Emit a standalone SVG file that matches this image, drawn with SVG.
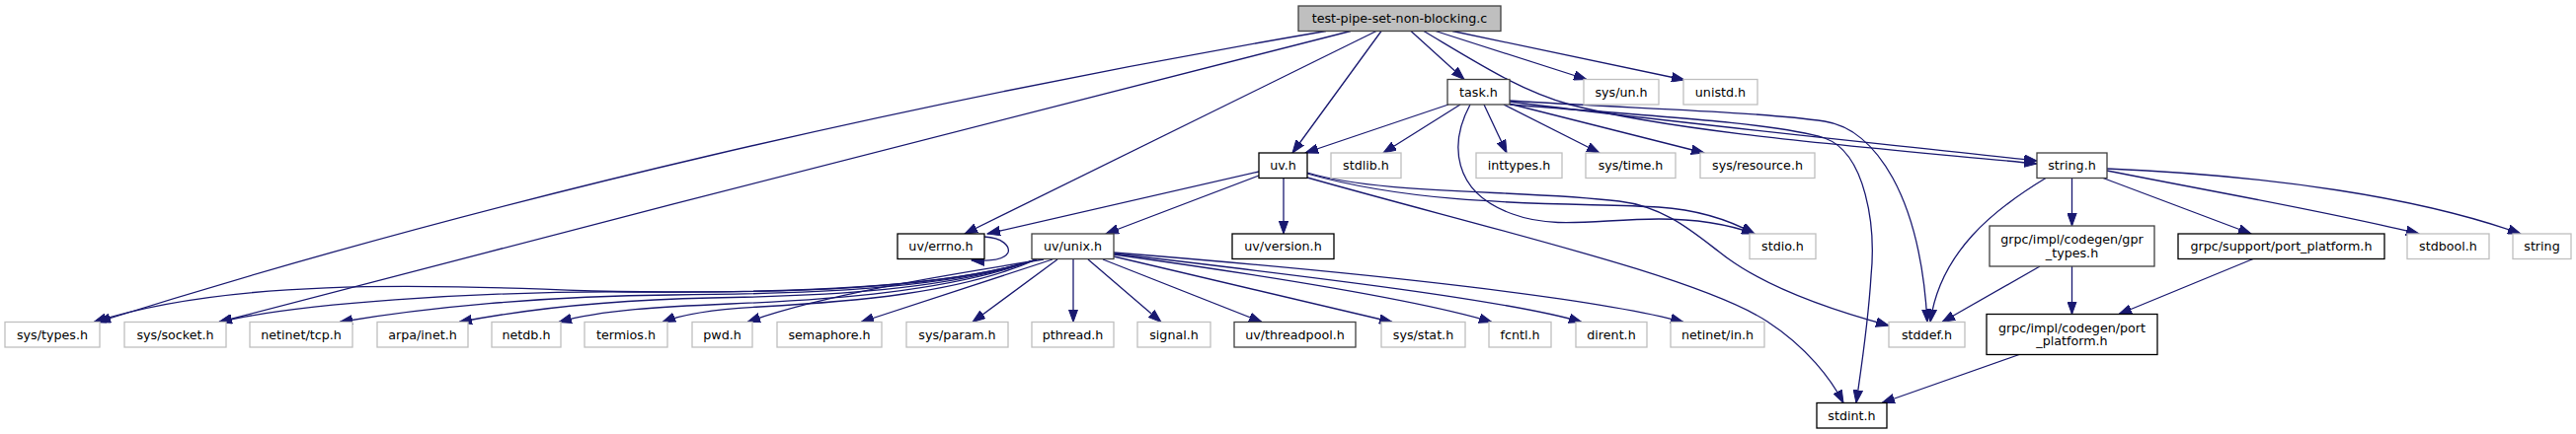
<svg xmlns="http://www.w3.org/2000/svg" width="2609" height="440" viewBox="0 0 2609 440">
<style>
.n rect{fill:#fff;stroke-width:1.3}
.k rect{stroke:#000}
.d rect{stroke:#404040}
.g rect{stroke:#bfbfbf}
.r rect{fill:#bfbfbf;stroke:#404040}
text{font-family:"DejaVu Sans","Liberation Sans",sans-serif;font-size:12.7px;fill:#000;text-anchor:middle}
.e path{fill:none;stroke:#191970;stroke-width:1.3;marker-end:url(#a)}
</style>
<defs>
<marker id="a" markerUnits="userSpaceOnUse" markerWidth="14" markerHeight="10" refX="13" refY="5" orient="auto" viewBox="0 0 14 10">
<path d="M0,0.3 L13,5 L0,9.7 z" fill="#191970" stroke="#191970" stroke-width="1"/>
</marker>
</defs>
<rect x="0" y="0" width="2609" height="440" fill="#fff"/>
<g class="e" id="edges">
<path d="M1399,31.5 L1309,155"/>
<path d="M1429,31.5 L1483,80.5"/>
<path d="M1454,31.5 L1607,80.5"/>
<path d="M1471,31.5 L1706,81"/>
<path d="M1442,31.5 C1500,66 1540,92 1590,106 C1700,135 1900,150 2063,166"/>
<path d="M1394,31.5 L977,237"/>
<path d="M1343,31.5 C943,100 499,200 99,326.5"/>
<path d="M1368,31.5 C1000,125 600,227 222,326.5"/>
<path d="M1467,106 L1322,155"/>
<path d="M1479,106 L1401,155"/>
<path d="M1503,106 L1526,155"/>
<path d="M1523,106 L1620,155"/>
<path d="M1528,105 L1726,155"/>
<path d="M1489,106 C1468,145 1470,195 1532,217 C1575,233 1620,222 1680,222 C1720,222 1752,228 1777,237"/>
<path d="M1529,103 C1700,125 1900,145 2063,163"/>
<path d="M1529,102 C1650,110 1780,113 1848,123 C1900,131 1945,200 1952,326.5"/>
<path d="M1529,106 C1680,118 1800,125 1848,140 C1890,155 1900,230 1895,280 C1892,330 1884,380 1880,408.5"/>
<path d="M1275,174 L1000,237"/>
<path d="M1275,178 L1120,237"/>
<path d="M1300,180.5 L1300,237"/>
<path d="M1324,176 C1450,212 1600,205 1680,210 C1725,213 1755,225 1777,237"/>
<path d="M1324,175 C1400,198 1540,192 1640,204 C1690,210 1720,240 1750,262 C1790,291 1850,313 1913,330"/>
<path d="M1324,180 C1500,230 1720,280 1790,326 C1830,352 1855,385 1867,408.5"/>
<path d="M997,240 C1016,241 1023,250 1021,256 C1018,263 1002,265 984,264"/>
<path d="M1050,263 C960,292 800,299 600,295 C420,288 230,283 95,326.5"/>
<path d="M1050,263 C960,292 800,297 640,296 C480,295 300,308 222,326.5"/>
<path d="M1050,263 C960,293 820,298 680,299 C550,300 430,312 344,326.5"/>
<path d="M1050,263 C960,294 840,300 720,302 C620,304 530,314 465,326.5"/>
<path d="M1050,263 C960,296 840,304 740,308 C670,311 610,314 566,326.5"/>
<path d="M1050,263 C970,298 860,306 770,311 C730,313 695,317 671,326.5"/>
<path d="M1057,263 C950,280 830,300 757,326.5"/>
<path d="M1066,263 L872,326.5"/>
<path d="M1071,263 L985,326.5"/>
<path d="M1087,263 L1087,326.5"/>
<path d="M1102,263 L1176,326.5"/>
<path d="M1117,263 L1278,326.5"/>
<path d="M1128,260 L1410,326.5"/>
<path d="M1128,258 C1300,282 1440,305 1511,326.5"/>
<path d="M1128,257 C1340,282 1530,305 1602,326.5"/>
<path d="M1128,256 C1400,278 1620,303 1705,326.5"/>
<path d="M2098.5,180.5 L2098.5,229"/>
<path d="M2130,180.5 L2280,237"/>
<path d="M2134,173 C2250,196 2360,215 2450,237"/>
<path d="M2134,171 C2300,178 2450,200 2553,237"/>
<path d="M2072,180.5 C2020,212 1965,255 1955,326.5"/>
<path d="M2066,270 L1967,326.5"/>
<path d="M2098.5,270 L2098.5,318.5"/>
<path d="M2282,262.5 L2146,318.5"/>
<path d="M2045,359.5 L1906,408.5"/>
</g>
<g class="n r" id="n-root"><rect x="1315" y="6" width="205" height="25.5"/><text x="1417.5" y="23.3">test-pipe-set-non-blocking.c</text></g>
<g class="n d" id="n-task"><rect x="1466" y="80.5" width="63" height="25.5"/><text x="1497.5" y="97.8">task.h</text></g>
<g class="n g" id="n-sysun"><rect x="1604" y="80.5" width="76" height="25.5"/><text x="1642" y="97.8">sys/un.h</text></g>
<g class="n g" id="n-unistd"><rect x="1705" y="80.5" width="75" height="25.5"/><text x="1742.5" y="97.8">unistd.h</text></g>
<g class="n k" id="n-uv"><rect x="1275" y="155" width="49" height="25.5"/><text x="1299.5" y="172.3">uv.h</text></g>
<g class="n g" id="n-stdlib"><rect x="1348" y="155" width="71" height="25.5"/><text x="1383.5" y="172.3">stdlib.h</text></g>
<g class="n g" id="n-inttypes"><rect x="1495" y="155" width="87" height="25.5"/><text x="1538.5" y="172.3">inttypes.h</text></g>
<g class="n g" id="n-systime"><rect x="1606" y="155" width="91" height="25.5"/><text x="1651.5" y="172.3">sys/time.h</text></g>
<g class="n g" id="n-sysresource"><rect x="1722" y="155" width="116" height="25.5"/><text x="1780" y="172.3">sys/resource.h</text></g>
<g class="n d" id="n-string-h"><rect x="2063" y="155" width="71" height="25.5"/><text x="2098.5" y="172.3">string.h</text></g>
<g class="n k" id="n-uverrno"><rect x="909" y="237" width="88" height="25.5"/><text x="953" y="254.3">uv/errno.h</text></g>
<g class="n d" id="n-uvunix"><rect x="1045" y="237" width="83" height="25.5"/><text x="1086.5" y="254.3">uv/unix.h</text></g>
<g class="n k" id="n-uvversion"><rect x="1248" y="237" width="103" height="25.5"/><text x="1299.5" y="254.3">uv/version.h</text></g>
<g class="n g" id="n-stdio"><rect x="1772" y="237" width="67" height="25.5"/><text x="1805.5" y="254.3">stdio.h</text></g>
<g class="n d" id="n-gprtypes"><rect x="2015" y="229" width="167" height="41"/><text x="2098.5" y="247">grpc/impl/codegen/gpr</text><text x="2098.5" y="260.5">_types.h</text></g>
<g class="n k" id="n-supportpp"><rect x="2206" y="237" width="209" height="25.5"/><text x="2310.5" y="254.3">grpc/support/port_platform.h</text></g>
<g class="n g" id="n-stdbool"><rect x="2438" y="237" width="83" height="25.5"/><text x="2479.5" y="254.3">stdbool.h</text></g>
<g class="n g" id="n-string"><rect x="2545" y="237" width="59" height="25.5"/><text x="2574.5" y="254.3">string</text></g>
<g class="n g" id="n-systypes"><rect x="5" y="326.5" width="96" height="25.5"/><text x="53" y="343.8">sys/types.h</text></g>
<g class="n g" id="n-syssocket"><rect x="126" y="326.5" width="103" height="25.5"/><text x="177.5" y="343.8">sys/socket.h</text></g>
<g class="n g" id="n-netinettcp"><rect x="253" y="326.5" width="104" height="25.5"/><text x="305" y="343.8">netinet/tcp.h</text></g>
<g class="n g" id="n-arpainet"><rect x="382" y="326.5" width="92" height="25.5"/><text x="428" y="343.8">arpa/inet.h</text></g>
<g class="n g" id="n-netdb"><rect x="498" y="326.5" width="70" height="25.5"/><text x="533" y="343.8">netdb.h</text></g>
<g class="n g" id="n-termios"><rect x="592" y="326.5" width="84" height="25.5"/><text x="634" y="343.8">termios.h</text></g>
<g class="n g" id="n-pwd"><rect x="701" y="326.5" width="61" height="25.5"/><text x="731.5" y="343.8">pwd.h</text></g>
<g class="n g" id="n-semaphore"><rect x="787" y="326.5" width="106" height="25.5"/><text x="840" y="343.8">semaphore.h</text></g>
<g class="n g" id="n-sysparam"><rect x="918" y="326.5" width="103" height="25.5"/><text x="969.5" y="343.8">sys/param.h</text></g>
<g class="n g" id="n-pthread"><rect x="1045" y="326.5" width="83" height="25.5"/><text x="1086.5" y="343.8">pthread.h</text></g>
<g class="n g" id="n-signal"><rect x="1152" y="326.5" width="74" height="25.5"/><text x="1189" y="343.8">signal.h</text></g>
<g class="n d" id="n-uvthreadpool"><rect x="1250" y="326.5" width="123" height="25.5"/><text x="1311.5" y="343.8">uv/threadpool.h</text></g>
<g class="n g" id="n-sysstat"><rect x="1399" y="326.5" width="85" height="25.5"/><text x="1441.5" y="343.8">sys/stat.h</text></g>
<g class="n g" id="n-fcntl"><rect x="1508" y="326.5" width="63" height="25.5"/><text x="1539.5" y="343.8">fcntl.h</text></g>
<g class="n g" id="n-dirent"><rect x="1596" y="326.5" width="72" height="25.5"/><text x="1632" y="343.8">dirent.h</text></g>
<g class="n g" id="n-netinetin"><rect x="1692" y="326.5" width="95" height="25.5"/><text x="1739.5" y="343.8">netinet/in.h</text></g>
<g class="n g" id="n-stddef"><rect x="1913" y="326.5" width="77" height="25.5"/><text x="1951.5" y="343.8">stddef.h</text></g>
<g class="n k" id="n-codegenpp"><rect x="2012" y="318.5" width="173" height="41"/><text x="2098.5" y="336.5">grpc/impl/codegen/port</text><text x="2098.5" y="350">_platform.h</text></g>
<g class="n k" id="n-stdint"><rect x="1840" y="408.5" width="71" height="25.5"/><text x="1875.5" y="425.8">stdint.h</text></g>
</svg>
